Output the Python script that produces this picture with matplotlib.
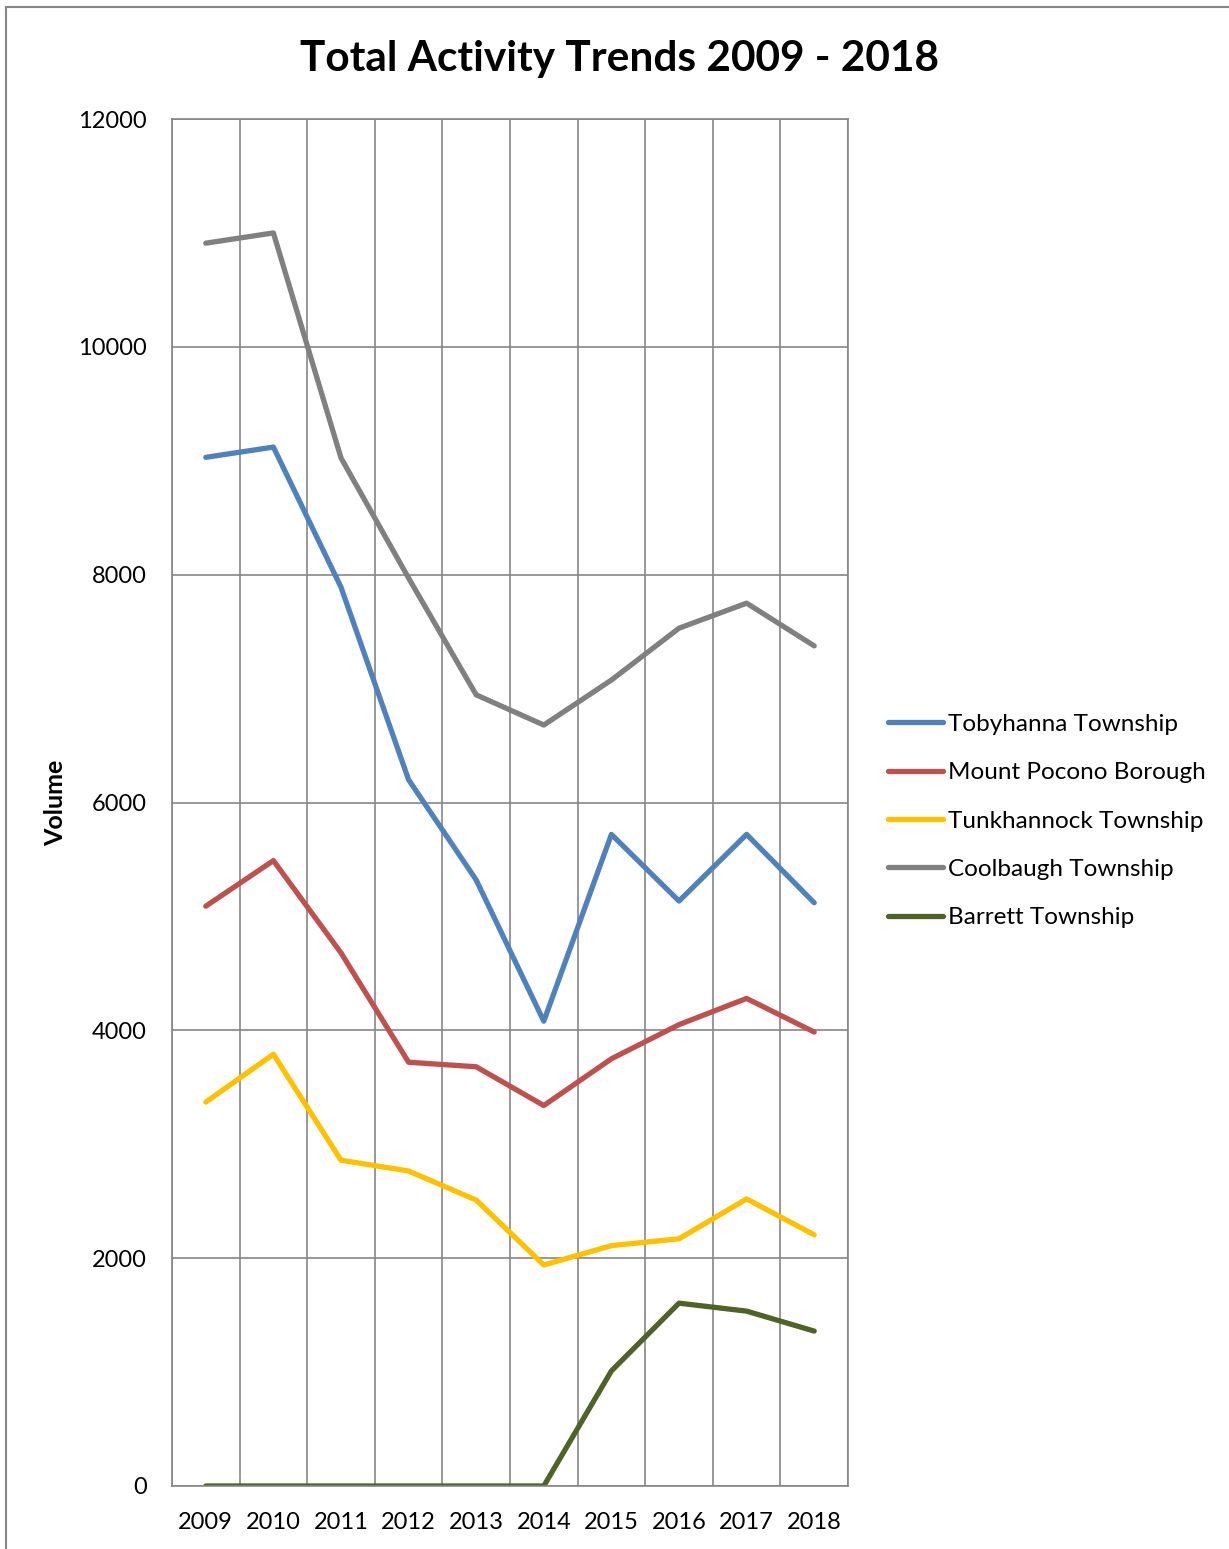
import matplotlib
matplotlib.use("Agg")
import matplotlib.pyplot as plt
from matplotlib.patches import Rectangle
import numpy as np

plt.rcParams['font.family'] = ['Lato', 'DejaVu Sans']

years = ["2009", "2010", "2011", "2012", "2013", "2014", "2015", "2016", "2017", "2018"]
tobyhanna = [9030, 9120, 7890, 6200, 5320, 4080, 5720, 5135, 5720, 5120]
mount_pocono = [5090, 5490, 4680, 3720, 3680, 3340, 3750, 4050, 4280, 3985]
tunkhannock = [3370, 3790, 2860, 2765, 2510, 1940, 2110, 2170, 2520, 2205]
coolbaugh = [10910, 11000, 9025, 7970, 6945, 6680, 7075, 7530, 7750, 7375]
barrett = [0, 0, 0, 0, 0, 0, 1010, 1605, 1535, 1360]

series = [
    ("Tobyhanna Township", tobyhanna, "#4F81BD"),
    ("Mount Pocono Borough", mount_pocono, "#C0504D"),
    ("Tunkhannock Township", tunkhannock, "#FFC000"),
    ("Coolbaugh Township", coolbaugh, "#808080"),
    ("Barrett Township", barrett, "#4F6228"),
]

W, H = 1229, 1549
fig = plt.figure(figsize=(W / 100, H / 100), dpi=100)

# chart-area border (open towards the right and bottom edges)
fig.patches.append(Rectangle((6 / W, -0.05), 1.2, 1 - 7 / H + 0.05,
                             transform=fig.transFigure, fill=False,
                             edgecolor="#868686", linewidth=1.5))

ax = fig.add_axes([172 / W, 1 - 1486 / H, (848 - 172) / W, (1486 - 119) / H])

x = np.arange(len(years))
for name, vals, color in series:
    ax.plot(x, vals, color=color, linewidth=3.8, label=name,
            solid_capstyle="round", solid_joinstyle="round")

ax.set_xlim(-0.5, len(years) - 0.5)
ax.set_ylim(0, 12000)
ax.set_yticks(np.arange(0, 12001, 2000))
ax.set_xticks(x)
ax.set_xticklabels(years)
ax.set_xticks(np.arange(-0.5, len(years), 1.0), minor=True)

ax.grid(axis="y", which="major", color="#868686", linewidth=1.2)
ax.grid(axis="x", which="minor", color="#868686", linewidth=1.2)
ax.grid(axis="x", which="major", visible=False)
ax.set_axisbelow(True)

for s in ax.spines.values():
    s.set_color("#868686")
    s.set_linewidth(1.2)

ax.tick_params(axis="both", which="both", length=0)
ax.tick_params(axis="y", labelsize=17, pad=18)
ax.tick_params(axis="x", labelsize=17, pad=19)

ax.set_ylabel("Volume", fontsize=18, fontweight="bold", labelpad=8)

fig.text(619 / W, 1 - 59 / H, "Total Activity Trends 2009 - 2018",
         ha="center", va="center", fontsize=30.5, fontweight="bold")

fig.legend(loc="center left", bbox_to_anchor=(888 / W, 1 - 821 / H),
           frameon=False, fontsize=17.5, handlelength=2.25,
           handletextpad=0.2, labelspacing=1.13, borderpad=0,
           borderaxespad=0)

fig.savefig("out.png", dpi=100, facecolor="white")
